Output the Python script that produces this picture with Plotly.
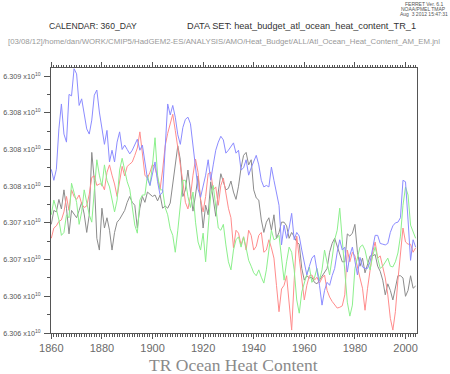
import plotly.graph_objects as go

YEARS = list(range(1860, 2005))

BLUE = [6.30773, 6.30758, 6.30773, 6.30828, 6.30862, 6.30821, 6.30810, 6.30875, 6.30873, 6.30910,
        6.30903, 6.30860, 6.30869, 6.30851, 6.30828, 6.30821, 6.30840, 6.30874, 6.30881, 6.30851,
        6.30830, 6.30807, 6.30826, 6.30783, 6.30799, 6.30783, 6.30810, 6.30824, 6.30800, 6.30806,
        6.30800, 6.30794, 6.30799, 6.30807, 6.30814, 6.30799, 6.30806, 6.30783, 6.30760, 6.30751,
        6.30769, 6.30783, 6.30756, 6.30738, 6.30742, 6.30806, 6.30862, 6.30847, 6.30860, 6.30844,
        6.30820, 6.30807, 6.30830, 6.30841, 6.30844, 6.30835, 6.30806, 6.30779, 6.30746, 6.30735,
        6.30751, 6.30765, 6.30786, 6.30758, 6.30779, 6.30799, 6.30810, 6.30818, 6.30813, 6.30795,
        6.30799, 6.30805, 6.30809, 6.30795, 6.30799, 6.30772, 6.30775, 6.30786, 6.30765, 6.30775,
        6.30783, 6.30792, 6.30779, 6.30758, 6.30749, 6.30751, 6.30749, 6.30776, 6.30758, 6.30741,
        6.30724, 6.30670, 6.30697, 6.30679, 6.30693, 6.30713, 6.30677, 6.30687, 6.30682, 6.30663,
        6.30647, 6.30629, 6.30641, 6.30652, 6.30656, 6.30636, 6.30615, 6.30588, 6.30608, 6.30619,
        6.30615, 6.30628, 6.30638, 6.30660, 6.30677, 6.30663, 6.30667, 6.30633, 6.30656, 6.30667,
        6.30647, 6.30629, 6.30653, 6.30640, 6.30638, 6.30638, 6.30647, 6.30666, 6.30683, 6.30683,
        6.30672, 6.30671, 6.30670, 6.30672, 6.30687, 6.30696, 6.30700, 6.30701, 6.30707, 6.30758,
        6.30756, 6.30704, 6.30649, 6.30677, 6.30667]

RED = [6.30679, 6.30693, 6.30696, 6.30702, 6.30704, 6.30715, 6.30736, 6.30717, 6.30745, 6.30736,
       6.30732, 6.30738, 6.30726, 6.30721, 6.30723, 6.30739, 6.30762, 6.30764, 6.30751, 6.30753,
       6.30753, 6.30745, 6.30769, 6.30779, 6.30765, 6.30753, 6.30736, 6.30756, 6.30777, 6.30764,
       6.30777, 6.30780, 6.30783, 6.30792, 6.30802, 6.30824, 6.30792, 6.30765, 6.30761, 6.30769,
       6.30780, 6.30775, 6.30761, 6.30746, 6.30772, 6.30805, 6.30822, 6.30837, 6.30848, 6.30826,
       6.30800, 6.30779, 6.30756, 6.30728, 6.30719, 6.30736, 6.30765, 6.30787, 6.30769, 6.30732,
       6.30715, 6.30736, 6.30767, 6.30769, 6.30745, 6.30749, 6.30724, 6.30751, 6.30761, 6.30738,
       6.30720, 6.30707, 6.30666, 6.30690, 6.30686, 6.30670, 6.30681, 6.30663, 6.30690, 6.30683,
       6.30663, 6.30668, 6.30683, 6.30687, 6.30660, 6.30663, 6.30677, 6.30666, 6.30652, 6.30615,
       6.30579, 6.30610, 6.30615, 6.30628, 6.30588, 6.30554, 6.30622, 6.30682, 6.30652, 6.30622,
       6.30595, 6.30615, 6.30628, 6.30629, 6.30622, 6.30626, 6.30618, 6.30625, 6.30629, 6.30608,
       6.30599, 6.30593, 6.30588, 6.30584, 6.30585, 6.30587, 6.30602, 6.30663, 6.30647, 6.30660,
       6.30655, 6.30638, 6.30625, 6.30611, 6.30581, 6.30611, 6.30638, 6.30660, 6.30674, 6.30652,
       6.30655, 6.30641, 6.30625, 6.30602, 6.30570, 6.30554, 6.30579, 6.30622, 6.30663, 6.30693,
       6.30674, 6.30671, 6.30671, 6.30660, 6.30666]

GREEN = [6.30711, 6.30731, 6.30719, 6.30704, 6.30683, 6.30687, 6.30711, 6.30707, 6.30754, 6.30742,
         6.30728, 6.30698, 6.30715, 6.30745, 6.30727, 6.30711, 6.30701, 6.30745, 6.30786, 6.30765,
         6.30750, 6.30779, 6.30758, 6.30749, 6.30731, 6.30715, 6.30731, 6.30772, 6.30788, 6.30772,
         6.30756, 6.30746, 6.30719, 6.30697, 6.30686, 6.30731, 6.30738, 6.30738, 6.30765, 6.30751,
         6.30779, 6.30816, 6.30765, 6.30745, 6.30745, 6.30721, 6.30711, 6.30692, 6.30683, 6.30660,
         6.30690, 6.30724, 6.30758, 6.30758, 6.30736, 6.30721, 6.30742, 6.30701, 6.30674, 6.30663,
         6.30686, 6.30647, 6.30697, 6.30738, 6.30751, 6.30724, 6.30693, 6.30690, 6.30698, 6.30670,
         6.30647, 6.30636, 6.30663, 6.30677, 6.30681, 6.30667, 6.30681, 6.30666, 6.30649, 6.30641,
         6.30632, 6.30628, 6.30636, 6.30626, 6.30618, 6.30636, 6.30663, 6.30690, 6.30677, 6.30679,
         6.30683, 6.30655, 6.30622, 6.30647, 6.30667, 6.30660, 6.30636, 6.30595, 6.30577, 6.30606,
         6.30619, 6.30630, 6.30640, 6.30619, 6.30625, 6.30638, 6.30622, 6.30636, 6.30663, 6.30647,
         6.30629, 6.30652, 6.30677, 6.30690, 6.30720, 6.30677, 6.30636, 6.30592, 6.30573, 6.30588,
         6.30638, 6.30652, 6.30667, 6.30670, 6.30663, 6.30647, 6.30636, 6.30655, 6.30667, 6.30652,
         6.30638, 6.30641, 6.30647, 6.30652, 6.30641, 6.30640, 6.30647, 6.30659, 6.30682, 6.30724,
         6.30749, 6.30738, 6.30697, 6.30687, 6.30679]

BLACK = [6.30698, 6.30717, 6.30715, 6.30732, 6.30719, 6.30745, 6.30720, 6.30685, 6.30717, 6.30712,
         6.30707, 6.30717, 6.30728, 6.30712, 6.30687, 6.30711, 6.30796, 6.30758, 6.30679, 6.30663,
         6.30720, 6.30693, 6.30707, 6.30690, 6.30663, 6.30687, 6.30701, 6.30705, 6.30712, 6.30717,
         6.30728, 6.30736, 6.30728, 6.30724, 6.30693, 6.30720, 6.30736, 6.30728, 6.30742, 6.30739,
         6.30736, 6.30738, 6.30730, 6.30738, 6.30720, 6.30723, 6.30720, 6.30727, 6.30751, 6.30779,
         6.30805, 6.30786, 6.30736, 6.30745, 6.30772, 6.30742, 6.30716, 6.30738, 6.30764, 6.30731,
         6.30693, 6.30724, 6.30711, 6.30756, 6.30734, 6.30709, 6.30742, 6.30767, 6.30756, 6.30745,
         6.30747, 6.30757, 6.30742, 6.30732, 6.30750, 6.30775, 6.30792, 6.30796, 6.30779, 6.30786,
         6.30745, 6.30734, 6.30731, 6.30704, 6.30687, 6.30701, 6.30707, 6.30690, 6.30711, 6.30679,
         6.30687, 6.30701, 6.30701, 6.30696, 6.30679, 6.30687, 6.30681, 6.30674, 6.30671, 6.30638,
         6.30622, 6.30628, 6.30625, 6.30626, 6.30619, 6.30617, 6.30622, 6.30628, 6.30632, 6.30638,
         6.30660, 6.30672, 6.30679, 6.30668, 6.30657, 6.30647, 6.30647, 6.30685, 6.30682, 6.30686,
         6.30698, 6.30660, 6.30641, 6.30652, 6.30632, 6.30642, 6.30655, 6.30655, 6.30657, 6.30641,
         6.30634, 6.30622, 6.30602, 6.30617, 6.30608, 6.30595, 6.30612, 6.30628, 6.30628, 6.30625,
         6.30600, 6.30608, 6.30628, 6.30611, 6.30614]

X_TICKS = [1860, 1880, 1900, 1920, 1940, 1960, 1980, 2000]
Y_TICKS = [6.3055, 6.3060, 6.3065, 6.3070, 6.3075, 6.3080, 6.3085, 6.3090]
Y_TICK_LABELS = ["6.306", "6.306", "6.307", "6.307", "6.308", "6.308", "6.308", "6.309"]
Y_MINOR = [6.30575, 6.30625, 6.30675, 6.30725, 6.30775, 6.30825, 6.30875]

TITLE = "TR Ocean Heat Content"
CALENDAR = "CALENDAR: 360_DAY"
DATASET = "DATA SET: heat_budget_atl_ocean_heat_content_TR_1"
PATH = "[03/08/12]/home/dan/WORK/CMIP5/HadGEM2-ES/ANALYSIS/AMO/Heat_Budget/ALL/Atl_Ocean_Heat_Content_AM_EM.jnl"
STAMP = ["FERRET Ver. 6.1", "NOAA/PMEL TMAP", "Aug  3 2012 15:47:31"]

fig = go.Figure()
series = [(BLACK, "#8c8c8c"), (RED, "#ff8c8c"), (GREEN, "#8cf08c"), (BLUE, "#8c8cff")]
for vals, col in series:
    fig.add_trace(go.Scatter(x=YEARS, y=vals, mode="lines",
                             line=dict(color=col, width=1), hoverinfo="skip"))

axcol = "#555555"
fig.update_layout(
    width=450, height=374,
    margin=dict(l=51, r=33, t=68, b=41),
    paper_bgcolor="white", plot_bgcolor="white",
    showlegend=False,
    xaxis=dict(range=[1859.88, 2004.54], showgrid=False, zeroline=False, automargin=False,
               showline=True, linecolor=axcol, linewidth=1, mirror="ticks",
               ticks="outside", ticklen=5, tickcolor=axcol, tickwidth=1,
               tickvals=X_TICKS, ticktext=[str(v) for v in X_TICKS],
               tickfont=dict(family="Liberation Sans", size=11, color="#6a6a6a"),
               minor=dict(dtick=1, tick0=1860, ticks="outside", ticklen=2.5,
                          tickcolor=axcol, showgrid=False)),
    yaxis=dict(range=[6.30550, 6.30911], showgrid=False, zeroline=False, automargin=False,
               showline=True, linecolor=axcol, linewidth=1, mirror=True,
               ticks="outside", ticklen=6, tickcolor=axcol, tickwidth=1,
               tickvals=Y_TICKS, ticklabelstandoff=2,
               ticktext=[t + " x10<sup>10</sup>" for t in Y_TICK_LABELS],
               tickfont=dict(family="Liberation Sans", size=7.2, color="#555555"),
               minor=dict(tickvals=Y_MINOR, ticks="outside", ticklen=3,
                          tickcolor=axcol, showgrid=False)),
    yaxis2=dict(range=[6.30550, 6.30911], overlaying="y", side="right", automargin=False,
                showgrid=False, zeroline=False, showline=False,
                ticks="inside", ticklen=5, tickcolor=axcol,
                tickvals=sorted(Y_TICKS + Y_MINOR), showticklabels=False),
)


def px_x(px):
    return (px - 51) / 366.0


def px_y(py):
    return (333 - py) / 265.0


ann = []
ann.append(dict(text=CALENDAR, x=px_x(92.5), y=px_y(26.5), xanchor="center", yanchor="middle",
                font=dict(family="Liberation Sans", size=8.6, color="#333333")))
ann.append(dict(text=DATASET, x=px_x(301.5), y=px_y(26.5), xanchor="center", yanchor="middle",
                font=dict(family="Liberation Sans", size=9.2, color="#333333")))
ann.append(dict(text=PATH, x=px_x(6), y=px_y(41), xanchor="left", yanchor="middle",
                font=dict(family="Liberation Sans", size=7.8, color="#999999")))
for i, s in enumerate(STAMP):
    ann.append(dict(text=s, x=px_x(424), y=px_y(4 + 5 * i), xanchor="center", yanchor="middle",
                    font=dict(family="Liberation Sans", size=5, color="#555555")))
ann.append(dict(text=TITLE, x=px_x(233.5), y=px_y(364.5), xanchor="center", yanchor="middle",
                font=dict(family="Liberation Serif", size=17.5, color="#8a8a8a")))
for a in ann:
    a.update(xref="paper", yref="paper", showarrow=False)
fig.update_layout(annotations=ann)

fig.write_html("out.html", config={"displayModeBar": False},
               post_script="document.body.style.margin='0';")
